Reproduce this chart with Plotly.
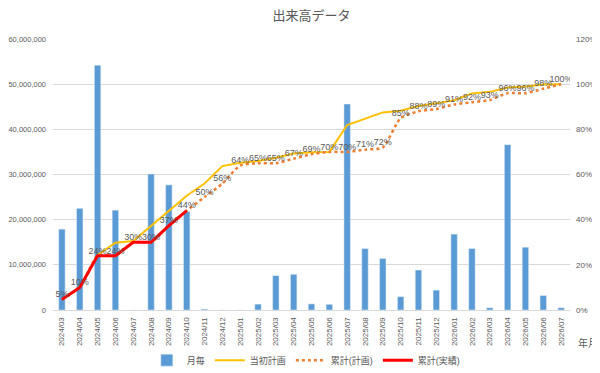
import plotly.graph_objects as go

months = ["2024/03", "2024/04", "2024/05", "2024/06", "2024/07", "2024/08", "2024/09", "2024/10",
          "2024/11", "2024/12", "2025/01", "2025/02", "2025/03", "2025/04", "2025/05", "2025/06",
          "2025/07", "2025/08", "2025/09", "2025/10", "2025/11", "2025/12", "2026/01", "2026/02",
          "2026/03", "2026/04", "2026/05", "2026/06", "2026/07"]

monthly = [17.9e6, 22.5e6, 54.2e6, 22.1e6, 0, 30.1e6, 27.7e6, 21.8e6,
           0.2e6, 0, 0, 1.3e6, 7.6e6, 7.9e6, 1.35e6, 1.25e6,
           45.6e6, 13.6e6, 11.4e6, 2.95e6, 8.85e6, 4.4e6, 16.8e6, 13.6e6,
           0.5e6, 36.6e6, 13.9e6, 3.2e6, 0.5e6]

initial_plan = [None, None, 0.243, 0.298, 0.305, 0.372, 0.442, 0.506,
                0.56, 0.637, 0.652, 0.66, 0.674, 0.693, 0.698, 0.70,
                0.819, 0.848, 0.875, 0.882, 0.903, 0.915, 0.929, 0.959,
                0.966, 0.985, 0.99, 0.999, 1.0]

cum_plan = [0.047, 0.10, 0.24, 0.24, 0.30, 0.30, 0.374, 0.44,
            0.50, 0.56, 0.64, 0.65, 0.65, 0.67, 0.69, 0.70,
            0.70, 0.71, 0.72, 0.85, 0.88, 0.89, 0.91, 0.92,
            0.93, 0.96, 0.96, 0.98, 1.00]

cum_actual = [0.047, 0.10, 0.24, 0.24, 0.30, 0.30, 0.374, 0.44]

grey = "#595959"
font_family = "Liberation Sans, Noto Sans CJK JP, sans-serif"

fig = go.Figure()

fig.add_trace(go.Bar(x=months, y=monthly, name="月毎", marker_color="#5B9BD5",
                     width=0.36, yaxis="y"))
fig.add_trace(go.Scatter(x=months, y=initial_plan, name="当初計画", mode="lines",
                         line=dict(color="#FFC000", width=2), yaxis="y2"))
fig.add_trace(go.Scatter(x=months, y=cum_plan, name="累計(計画)", mode="lines",
                         line=dict(color="#ED7D31", width=2.5, dash="dot", shape="spline", smoothing=0.6),
                         yaxis="y2"))
fig.add_trace(go.Scatter(x=months[:len(cum_actual)], y=cum_actual, name="累計(実績)", mode="lines",
                         line=dict(color="#FF0000", width=3), yaxis="y2"))
fig.add_trace(go.Scatter(x=months, y=cum_plan, mode="text", showlegend=False,
                         text=[f"{round(v * 100)}%" for v in cum_plan],
                         textposition="top center",
                         textfont=dict(size=9, color=grey), yaxis="y2", hoverinfo="skip"))

fig.update_layout(
    width=600, height=373,
    margin=dict(l=45, r=38, t=31, b=71, autoexpand=False),
    paper_bgcolor="white", plot_bgcolor="white",
    font=dict(family=font_family, color=grey, size=9),
    title=dict(text="出来高データ", x=0.506, xanchor="center", y=0.979, yanchor="middle",
               font=dict(size=13, color=grey, family=font_family)),
    xaxis=dict(type="category", range=[-0.5, len(months) - 0.5], tickangle=-90,
               tickfont=dict(size=8, color=grey),
               showgrid=False, showline=True, linecolor="#D9D9D9", ticks="", automargin=False,
               ticklabelstandoff=3),
    yaxis=dict(range=[0, 60e6], dtick=10e6, tickformat=",d", tickfont=dict(size=7.5, color=grey),
               showgrid=True, gridcolor="#D9D9D9", zeroline=False, ticks="", automargin=False,
               ticklabelstandoff=6),
    yaxis2=dict(range=[0, 1.2], dtick=0.2, tickformat=".0%", overlaying="y", side="right",
                tickfont=dict(size=8, color=grey), showgrid=False, zeroline=False, automargin=False,
                ticklabelstandoff=5),
    legend=dict(orientation="h", x=0.49, xanchor="center", y=-0.185, yanchor="middle",
                font=dict(size=9, color=grey), traceorder="normal"),
    showlegend=True,
    annotations=[dict(text="年月", xref="paper", yref="paper", x=1.012, y=-0.122,
                      xanchor="left", yanchor="middle", showarrow=False,
                      font=dict(size=10, color=grey))],
)

fig.write_html("out.html")
